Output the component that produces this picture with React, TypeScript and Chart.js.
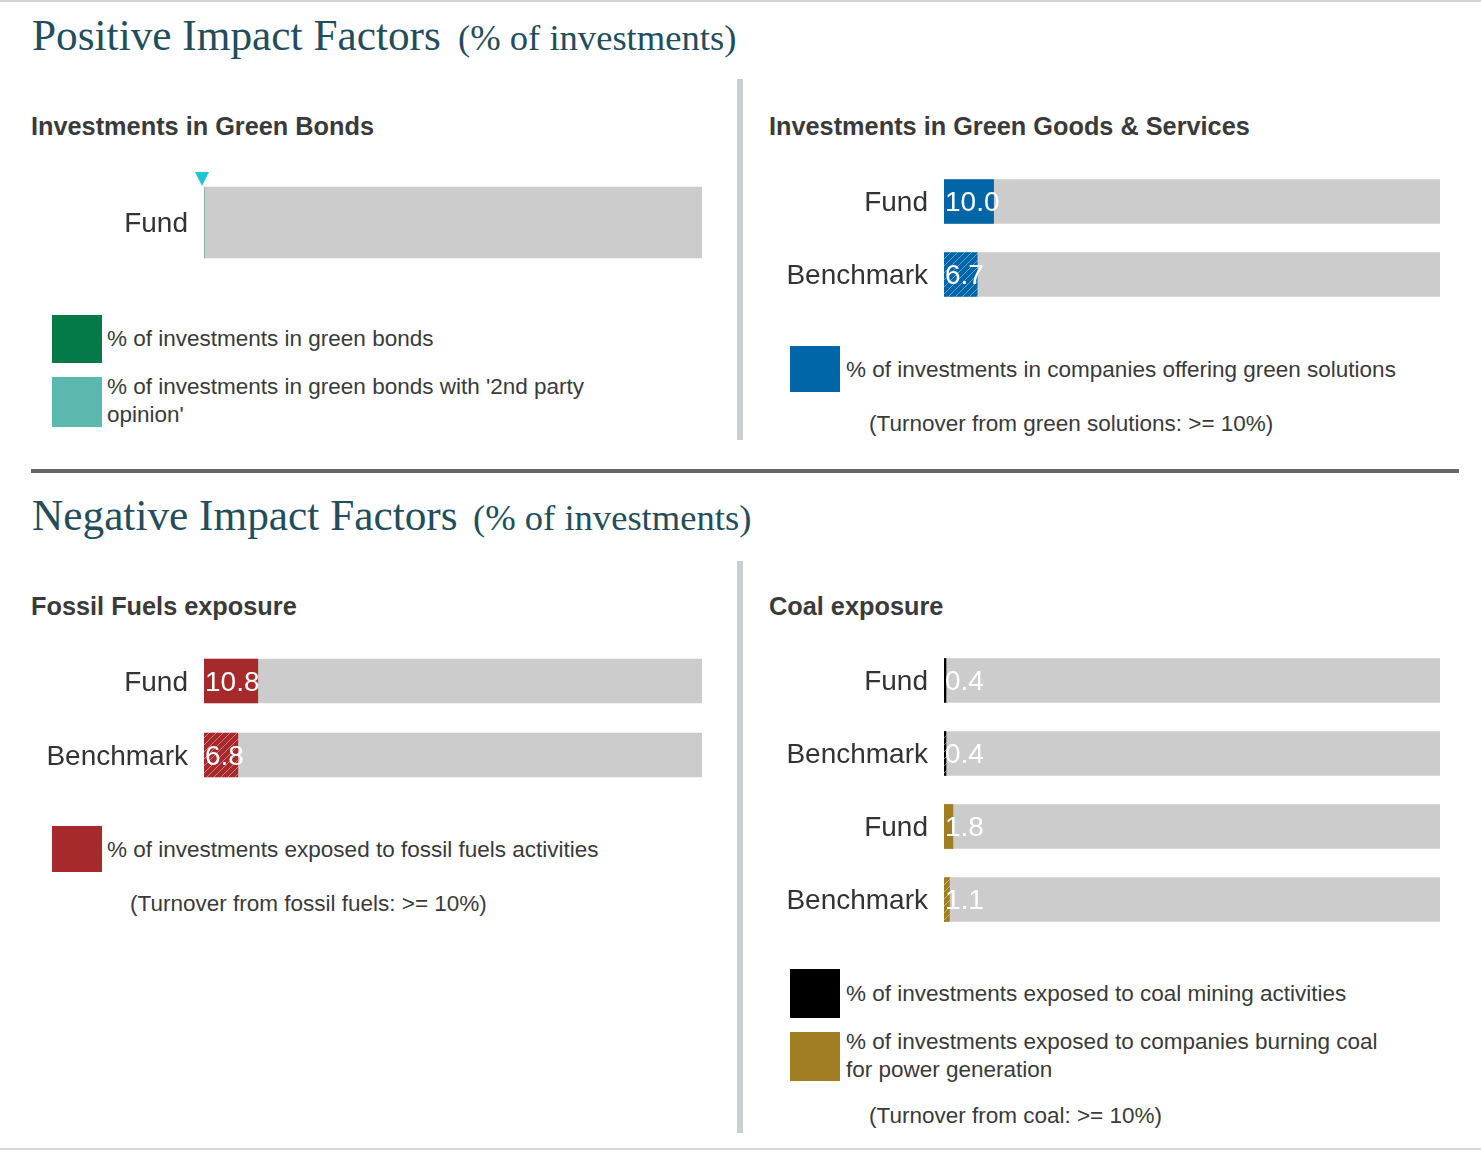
import React, { useEffect, useRef } from "react";
import { Chart, registerables } from "chart.js";

Chart.register(...registerables);

// ---------- data ----------
const AXIS_MAX = 100;

const greenBondsCategories = ["Fund"];
const greenBondsValues: (number | null)[] = [0];
const greenBondsSecondPartyValues: (number | null)[] = [0];

const greenGoodsCategories = ["Fund", "Benchmark"];
const greenGoodsValues: (number | null)[] = [10.0, 6.7];

const fossilCategories = ["Fund", "Benchmark"];
const fossilValues: (number | null)[] = [10.8, 6.8];

const coalCategories = ["Fund", "Benchmark", "Fund", "Benchmark"];
const coalMiningValues: (number | null)[] = [0.4, 0.4, null, null];
const coalPowerValues: (number | null)[] = [null, null, 1.8, 1.1];

// ---------- styles ----------
const SANS = '"Liberation Sans", Arial, Helvetica, sans-serif';
const SERIF = '"Liberation Serif", "Times New Roman", serif';
const TRACK_COLOR = "#cccccc";
const TITLE_COLOR = "#234d5b";
const TEXT_COLOR = "#3a3a3a";

const GREEN = "#047a48";
const TEAL = "#5bb8ae";
const MARKER = "#1ec6d4";
const BLUE = "#0066a8";
const RED = "#a6292b";
const BLACK = "#000000";
const GOLD = "#a07c22";

function makeHatch(color: string): CanvasPattern | string {
  const c = document.createElement("canvas");
  c.width = 7;
  c.height = 7;
  const ctx = c.getContext("2d");
  if (!ctx) return color;
  ctx.fillStyle = color;
  ctx.fillRect(0, 0, 7, 7);
  ctx.strokeStyle = "rgba(255,255,255,0.4)";
  ctx.lineWidth = 1;
  ctx.beginPath();
  ctx.moveTo(0, 7);
  ctx.lineTo(7, 0);
  ctx.moveTo(-1, 1);
  ctx.lineTo(1, -1);
  ctx.moveTo(6, 8);
  ctx.lineTo(8, 6);
  ctx.stroke();
  return ctx.createPattern(c, "repeat") || color;
}

interface SeriesDef {
  values: (number | null)[];
  color: string;
}

interface PanelChartProps {
  left: number;
  top: number;
  width: number;
  height: number;
  axisWidth: number;
  barThickness: number;
  categories: string[];
  series: SeriesDef[];
  markerValues?: (number | null)[];
}

function PanelChart(props: PanelChartProps) {
  const ref = useRef<HTMLCanvasElement | null>(null);
  useEffect(() => {
    if (!ref.current) return;
    const { categories, series, barThickness, axisWidth, markerValues } = props;
    const nSeries = series.length;

    const datasets: any[] = series.map((s, i) => ({
      label: "series" + i,
      data: s.values,
      backgroundColor: categories.map((c) => (c === "Benchmark" ? makeHatch(s.color) : s.color)),
      borderWidth: 0,
      barThickness,
      grouped: false,
      order: 1,
    }));
    datasets.push({
      label: "track",
      data: categories.map(() => AXIS_MAX),
      backgroundColor: TRACK_COLOR,
      borderWidth: 0,
      barThickness,
      grouped: false,
      order: 2,
    });

    const labelPlugin = {
      id: "valueLabels",
      afterDatasetsDraw(chart: any) {
        const ctx = chart.ctx;
        const xScale = chart.scales.x;
        const x0 = xScale.getPixelForValue(0);
        ctx.save();
        ctx.font = `28px ${SANS}`;
        ctx.fillStyle = "#ffffff";
        ctx.textAlign = "left";
        ctx.textBaseline = "middle";
        for (let i = 0; i < nSeries; i++) {
          const meta = chart.getDatasetMeta(i);
          const data = chart.data.datasets[i].data;
          meta.data.forEach((el: any, j: number) => {
            const v = data[j];
            if (v == null || v <= 0) return;
            ctx.fillText(Number(v).toFixed(1), x0 + 1, el.y + 2);
          });
        }
        if (markerValues) {
          const trackMeta = chart.getDatasetMeta(nSeries);
          trackMeta.data.forEach((el: any, j: number) => {
            const v = markerValues[j];
            if (v == null) return;
            const x = xScale.getPixelForValue(v) - 2;
            const yTip = el.y - el.height / 2 - 1;
            ctx.fillStyle = MARKER;
            ctx.beginPath();
            ctx.moveTo(x, yTip);
            ctx.lineTo(x - 7, yTip - 14);
            ctx.lineTo(x + 7, yTip - 14);
            ctx.closePath();
            ctx.fill();
          });
        }
        ctx.restore();
      },
    };

    const chart = new Chart(ref.current, {
      type: "bar",
      data: { labels: categories, datasets },
      options: {
        indexAxis: "y",
        animation: false,
        responsive: false,
        maintainAspectRatio: false,
        events: [],
        layout: { padding: { top: 20, bottom: 20, left: 0, right: 0 } },
        plugins: { legend: { display: false }, tooltip: { enabled: false } },
        scales: {
          x: { display: false, min: 0, max: AXIS_MAX },
          y: {
            grid: { display: false, drawTicks: true, tickLength: 16 },
            border: { display: false },
            ticks: {
              padding: 0,
              labelOffset: 2,
              color: "#333333",
              font: { family: SANS, size: 28 },
            },
            afterFit: (scale: any) => {
              scale.width = axisWidth;
            },
          },
        },
      } as any,
      plugins: [labelPlugin as any],
    });
    return () => chart.destroy();
  }, []);

  return (
    <canvas
      ref={ref}
      width={props.width}
      height={props.height}
      style={{
        position: "absolute",
        left: props.left,
        top: props.top,
        width: props.width,
        height: props.height,
        display: "block",
      }}
    />
  );
}

function Abs(props: { left: number; top: number; style?: React.CSSProperties; children: React.ReactNode }) {
  return (
    <div style={{ position: "absolute", left: props.left, top: props.top, whiteSpace: "nowrap", ...props.style }}>
      {props.children}
    </div>
  );
}

const titleStyle: React.CSSProperties = { fontFamily: SERIF, fontSize: 43.3, lineHeight: "43px", color: TITLE_COLOR };
const titleSubStyle: React.CSSProperties = { fontFamily: SERIF, fontSize: 36.6, lineHeight: "36px", color: TITLE_COLOR };
const subStyle: React.CSSProperties = { fontFamily: SANS, fontSize: 25.3, lineHeight: "25px", fontWeight: "bold", color: TEXT_COLOR };
const legStyle: React.CSSProperties = { fontFamily: SANS, fontSize: 22.5, lineHeight: "28px", color: TEXT_COLOR };

function Swatch(props: { left: number; top: number; w: number; h: number; color: string }) {
  return (
    <div
      style={{
        position: "absolute",
        left: props.left,
        top: props.top,
        width: props.w,
        height: props.h,
        background: props.color,
      }}
    />
  );
}

export default function App() {
  return (
    <div
      style={{
        position: "absolute",
        left: 0,
        top: 0,
        width: 1481,
        height: 1152,
        background: "#ffffff",
        overflow: "hidden",
      }}
    >
      {/* frame lines */}
      <div style={{ position: "absolute", left: 0, top: 0, width: 1481, height: 2, background: "#d4d4d4" }} />
      <div style={{ position: "absolute", left: 0, top: 1148, width: 1481, height: 2, background: "#d8d8d8" }} />

      {/* ---------- Positive ---------- */}
      <Abs left={32} top={14} style={titleStyle}>Positive Impact Factors</Abs>
      <Abs left={458} top={20} style={titleSubStyle}>(% of investments)</Abs>

      <div style={{ position: "absolute", left: 737, top: 79, width: 6, height: 361, background: "#cbcfd2" }} />

      <Abs left={31} top={114} style={subStyle}>Investments in Green Bonds</Abs>
      <PanelChart
        left={24}
        top={157}
        width={678}
        height={131}
        axisWidth={180}
        barThickness={71}
        categories={greenBondsCategories}
        series={[{ values: greenBondsValues, color: GREEN }]}
        markerValues={greenBondsSecondPartyValues}
      />
      <Swatch left={52} top={315} w={50} h={48} color={GREEN} />
      <Abs left={107} top={325} style={legStyle}>% of investments in green bonds</Abs>
      <Swatch left={52} top={377} w={50} h={50} color={TEAL} />
      <Abs left={107} top={373} style={legStyle}>
        % of investments in green bonds with '2nd party
        <br />
        opinion'
      </Abs>

      <Abs left={769} top={114} style={subStyle}>Investments in Green Goods &amp; Services</Abs>
      <PanelChart
        left={764}
        top={145}
        width={676}
        height={186}
        axisWidth={180}
        barThickness={44}
        categories={greenGoodsCategories}
        series={[{ values: greenGoodsValues, color: BLUE }]}
      />
      <Swatch left={790} top={346} w={50} h={46} color={BLUE} />
      <Abs left={846} top={356} style={legStyle}>% of investments in companies offering green solutions</Abs>
      <Abs left={869} top={410} style={legStyle}>(Turnover from green solutions: &gt;= 10%)</Abs>

      {/* divider */}
      <div style={{ position: "absolute", left: 31, top: 469, width: 1428, height: 4, background: "#666666" }} />

      {/* ---------- Negative ---------- */}
      <Abs left={32} top={494} style={titleStyle}>Negative Impact Factors</Abs>
      <Abs left={473} top={500} style={titleSubStyle}>(% of investments)</Abs>

      <div style={{ position: "absolute", left: 737, top: 561, width: 6, height: 572, background: "#cbcfd2" }} />

      <Abs left={31} top={594} style={subStyle}>Fossil Fuels exposure</Abs>
      <PanelChart
        left={24}
        top={624}
        width={678}
        height={188}
        axisWidth={180}
        barThickness={44}
        categories={fossilCategories}
        series={[{ values: fossilValues, color: RED }]}
      />
      <Swatch left={52} top={826} w={50} h={46} color={RED} />
      <Abs left={107} top={836} style={legStyle}>% of investments exposed to fossil fuels activities</Abs>
      <Abs left={130} top={890} style={legStyle}>(Turnover from fossil fuels: &gt;= 10%)</Abs>

      <Abs left={769} top={594} style={subStyle}>Coal exposure</Abs>
      <PanelChart
        left={764}
        top={624}
        width={676}
        height={332}
        axisWidth={180}
        barThickness={44}
        categories={coalCategories}
        series={[
          { values: coalMiningValues, color: BLACK },
          { values: coalPowerValues, color: GOLD },
        ]}
      />
      <Swatch left={790} top={969} w={50} h={49} color={BLACK} />
      <Abs left={846} top={980} style={legStyle}>% of investments exposed to coal mining activities</Abs>
      <Swatch left={790} top={1032} w={50} h={49} color={GOLD} />
      <Abs left={846} top={1028} style={legStyle}>
        % of investments exposed to companies burning coal
        <br />
        for power generation
      </Abs>
      <Abs left={869} top={1102} style={legStyle}>(Turnover from coal: &gt;= 10%)</Abs>
    </div>
  );
}
